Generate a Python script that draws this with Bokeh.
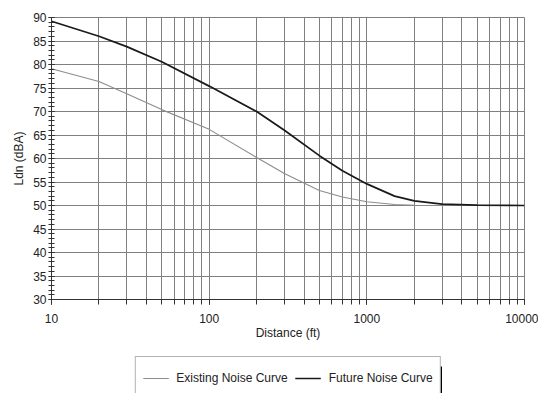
from bokeh.plotting import figure
from bokeh.layouts import column
from bokeh.models import (Range1d, LogTicker, SingleIntervalTicker, Legend, LegendItem,
                          BoxAnnotation, PrintfTickFormatter)
from bokeh.embed import file_html
from bokeh.resources import INLINE

# ---- data ----
distance_ft = [10, 20, 30, 50, 100, 200, 300, 500, 700, 1000, 1500, 2000, 3000, 5000, 10000]
existing_ldn = [79.1, 76.4, 73.8, 70.4, 66.2, 60.2, 56.8, 53.2, 51.8, 50.8, 50.2, 50.05, 50.0, 50.0, 50.0]
future_ldn = [89.2, 86.0, 83.8, 80.6, 75.4, 70.0, 66.0, 60.6, 57.4, 54.6, 52.0, 51.0, 50.3, 50.1, 50.0]
series_names = ["Existing Noise Curve", "Future Noise Curve"]
x_label = "Distance (ft)"
y_label = "Ldn (dBA)"

FONT = "Liberation Sans"
GRID = "#808080"
EXIST_COLOR = "#8c8c8c"
FUT_COLOR = "#1a1a1a"
W = 538
BL, BR = 51, 14

p = figure(width=W, height=356, x_axis_type="log",
           x_range=Range1d(10, 10000), y_range=Range1d(30, 90),
           output_backend="svg", toolbar_location=None,
           min_border_left=BL, min_border_right=BR, min_border_top=17, min_border_bottom=57)
p.background_fill_color = "white"
p.border_fill_color = "white"
p.outline_line_color = GRID

# x axis
p.xaxis.ticker = LogTicker(num_minor_ticks=10)
p.xaxis.formatter = PrintfTickFormatter(format="%d")
p.xaxis.axis_label = x_label
p.xaxis.major_tick_out = 5
p.xaxis.major_tick_in = 0
p.xaxis.minor_tick_out = 5
p.xaxis.minor_tick_in = 0
p.xaxis.major_label_standoff = 9
p.xaxis.axis_label_standoff = 0

# y axis
p.yaxis.ticker = SingleIntervalTicker(interval=5, num_minor_ticks=5)
p.yaxis.axis_label = y_label
p.yaxis.major_tick_out = 3
p.yaxis.major_tick_in = 3
p.yaxis.minor_tick_out = 3
p.yaxis.minor_tick_in = 3
p.yaxis.major_label_standoff = 2
p.yaxis.axis_label_standoff = 4

for ax in (p.xaxis[0], p.yaxis[0]):
    ax.axis_line_color = "#333333"
    ax.major_tick_line_color = "#333333"
    ax.minor_tick_line_color = "#333333"
    ax.major_label_text_font = FONT
    ax.major_label_text_font_size = "12px"
    ax.major_label_text_color = "#222222"
    ax.axis_label_text_font = FONT
    ax.axis_label_text_font_size = "12px"
    ax.axis_label_text_font_style = "normal"
    ax.axis_label_text_color = "#222222"

# grids
p.xgrid.grid_line_color = GRID
p.xgrid.minor_grid_line_color = GRID
p.ygrid.grid_line_color = GRID
p.ygrid.minor_grid_line_color = None

# curves
p.line(distance_ft, existing_ldn, line_color=EXIST_COLOR, line_width=1.1)
p.line(distance_ft, future_ldn, line_color=FUT_COLOR, line_width=1.7)

# ---- legend strip below the chart ----
LH = 37
FW = W - BL - BR
q = figure(width=W, height=LH, x_range=Range1d(0, FW), y_range=Range1d(0, LH),
           x_axis_location=None, y_axis_location=None,
           output_backend="svg", toolbar_location=None,
           min_border_left=BL, min_border_right=BR, min_border_top=0, min_border_bottom=0)
q.grid.visible = False
q.outline_line_color = None
q.background_fill_color = "white"
q.border_fill_color = "white"

d_exist = q.line([-20, -10], [-20, -20], line_color=EXIST_COLOR, line_width=1.1)
d_fut = q.line([-20, -10], [-20, -20], line_color=FUT_COLOR, line_width=1.7)

legend = Legend(items=[LegendItem(label=series_names[0], renderers=[d_exist]),
                       LegendItem(label=series_names[1], renderers=[d_fut])],
                orientation="horizontal", location="top_center",
                glyph_width=26, glyph_height=28, label_standoff=8, spacing=7,
                padding=7, margin=0,
                label_text_font=FONT, label_text_font_size="12px", label_text_color="#222222",
                border_line_color="#666666", border_line_width=1,
                background_fill_color="white", background_fill_alpha=1)
q.add_layout(legend, "center")

shadow = BoxAnnotation(left=388, right=390.5, top=LH - 10, bottom=-10,
                       fill_color="black", fill_alpha=1, line_color=None, level="overlay")
q.add_layout(shadow)

layout = column(p, q, spacing=0)
open("out.html", "w").write(file_html(layout, INLINE))
